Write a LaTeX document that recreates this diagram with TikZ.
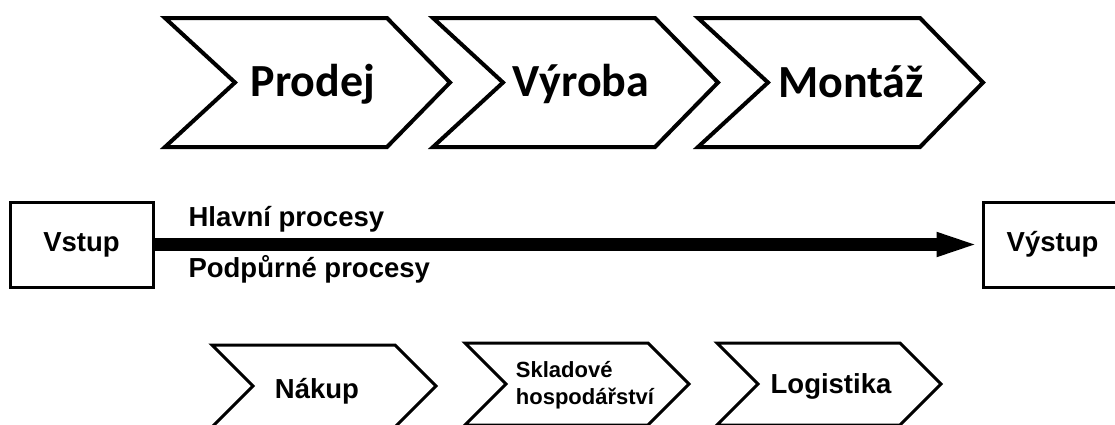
\documentclass[tikz,border=0pt]{standalone}
\usepackage{fontspec}
\setmainfont{Liberation Sans}
\newfontfamily\calibrifont{Carlito}
\usetikzlibrary{arrows.meta}

\begin{document}
\begin{tikzpicture}[
  x=1pt, y=-1pt,
  every node/.style={font=\bfseries\fontsize{27.5}{30}\selectfont},
  chevron/.style={draw=black, line width=4pt, fill=white},
  smallchevron/.style={draw=black, line width=3pt, fill=white},
  mainlabel/.style={font=\calibrifont\bfseries\fontsize{46}{50}\selectfont, anchor=base},
  sublabel/.style={anchor=base},
  sidelabel/.style={anchor=base west},
  endbox/.style={
    draw=black,
    line width=3pt,
    minimum width=143pt,
    minimum height=85pt,
    inner sep=0pt
  },
  flow/.style={line width=13pt, -{Triangle[length=45pt,width=21pt]}}
]
\useasboundingbox (0,0) rectangle (1115,424);

% main processes
\foreach \x in {165,433,698}
  \draw[chevron] (\x,18) -- ++(222,0) -- ++(63,64.5) -- ++(-63,64.5)
    -- ++(-222,0) -- ++(70,-64.5) -- cycle;
\node[mainlabel] (prodej) at (313,96) {Prodej};
\node[mainlabel] (vyroba) at (581,96) {Výroba};
\node[mainlabel] (montaz) at (851,97) {Montáž};

% input, output
\node[endbox] (vstup) at (81.5,244.5) {Vstup};
\node[endbox, minimum width=139pt] (vystup) at (1052.5,244.5) {Výstup};
\draw[flow] (vstup) -- (vystup);
\node[sidelabel] (hlavni) at (185,226) {Hlavní procesy};
\node[sidelabel] (podpurne) at (185,277) {Podpůrné procesy};

% support processes
\foreach \x/\y in {212/345,465/343,717/343}
  \draw[smallchevron] (\x,\y) -- ++(183,0) -- ++(41,41) -- ++(-41,41)
    -- ++(-183,0) -- ++(41,-41) -- cycle;
\node[sublabel] (nakup) at (317,398) {Nákup};
\node[align=left, font=\bfseries\fontsize{22}{27}\selectfont] (sklad) at (585,385) {Skladové\\hospodářství};
\node[sublabel] (logistika) at (831,393) {Logistika};
\end{tikzpicture}
\end{document}
